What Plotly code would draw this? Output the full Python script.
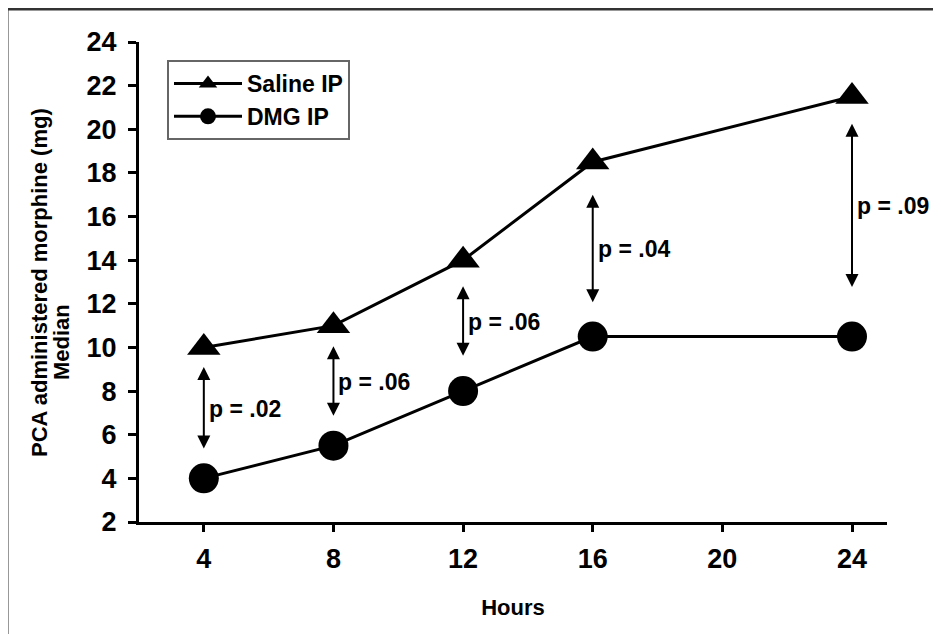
import plotly.graph_objects as go

# ---- data ----
hours = ["4", "8", "12", "16", "20", "24"]
saline_hours = ["4", "8", "12", "16", "24"]
saline_median = [10, 11, 14, 18.5, 21.5]
dmg_hours = ["4", "8", "12", "16", "24"]
dmg_median = [4, 5.5, 8, 10.5, 10.5]

p_hours = ["4", "8", "12", "16", "24"]
p_labels = ["p = .02", "p = .06", "p = .06", "p = .04", "p = .09"]
arrow_top = [9.1, 10.05, 12.8, 17.0, 20.25]
arrow_bottom = [5.3, 6.8, 9.55, 12.0, 12.7]

y_ticks = list(range(2, 25, 2))
y_title = "PCA administered morphine (mg)"
y_subtitle = "Median"
x_title = "Hours"

FONT = "Liberation Sans, Arial, Helvetica, sans-serif"

# page body has an 8px margin, so the figure is drawn 8px smaller and
# positioned 8px up/left to land where the reference elements are
PAGE_OFF = 8
PLOT_L, PLOT_T, PLOT_W, PLOT_H = 139, 42, 748, 480
FIG_W, FIG_H = 941 - PAGE_OFF, 634 - PAGE_OFF


def xpos(h):
    return hours.index(h)


def px(xp):
    return (xp - PLOT_L) / PLOT_W


def py(yp):
    return (PLOT_T + PLOT_H - yp) / PLOT_H


fig = go.Figure()
fig.add_trace(go.Scatter(
    x=[xpos(h) for h in saline_hours], y=saline_median, name="Saline IP",
    mode="lines+markers",
    line=dict(color="black", width=3),
    marker=dict(symbol="triangle-up", size=29, color="black"),
))
fig.add_trace(go.Scatter(
    x=[xpos(h) for h in dmg_hours], y=dmg_median, name="DMG IP",
    mode="lines+markers",
    line=dict(color="black", width=3),
    marker=dict(symbol="circle", size=30, color="black"),
))

annotations = []
for h, lab, top, bot in zip(p_hours, p_labels, arrow_top, arrow_bottom):
    xi = xpos(h)
    annotations.append(dict(
        x=xi, y=top, ax=xi, ay=bot, xref="x", yref="y", axref="x", ayref="y",
        text="", showarrow=True, arrowside="end+start", arrowhead=2,
        arrowsize=1.3, arrowwidth=2, arrowcolor="black",
    ))
    annotations.append(dict(
        x=xi, y=(top + bot) / 2, xref="x", yref="y", text=lab,
        showarrow=False, xanchor="left", yanchor="middle", xshift=3,
        font=dict(family=FONT, size=23, color="black", weight="bold"),
    ))

# y-axis title (two lines placed like the reference)
annotations.append(dict(
    x=px(39), y=py(283), xref="paper", yref="paper", text=y_title,
    textangle=-90, showarrow=False, xanchor="center", yanchor="middle",
    font=dict(family=FONT, size=22, color="black", weight="bold"),
))
annotations.append(dict(
    x=px(61), y=py(342), xref="paper", yref="paper", text=y_subtitle,
    textangle=-90, showarrow=False, xanchor="center", yanchor="middle",
    font=dict(family=FONT, size=22, color="black", weight="bold"),
))

fig.update_layout(
    width=FIG_W, height=FIG_H,
    margin=dict(l=PLOT_L - PAGE_OFF, t=PLOT_T - PAGE_OFF,
                r=FIG_W - (PLOT_L - PAGE_OFF) - PLOT_W,
                b=FIG_H - (PLOT_T - PAGE_OFF) - PLOT_H, autoexpand=False),
    paper_bgcolor="white", plot_bgcolor="white",
    font=dict(family=FONT, color="black", weight="bold"),
    showlegend=True,
    legend=dict(
        x=px(167), y=py(60), xanchor="left", yanchor="top",
        bgcolor="white", bordercolor="#666666", borderwidth=2,
        font=dict(family=FONT, size=23, color="black", weight="bold"),
        itemwidth=68,
    ),
    xaxis=dict(
        range=[-0.5, 5.27], tickmode="array",
        tickvals=list(range(len(hours))), ticktext=hours,
        showline=True, linecolor="black", linewidth=3,
        ticks="outside", ticklen=7, tickwidth=3, tickcolor="black",
        showgrid=False, zeroline=False, automargin=False,
        ticklabelstandoff=4,
        tickfont=dict(family=FONT, size=27, color="black", weight="bold"),
        title=dict(text=x_title, standoff=27,
                   font=dict(family=FONT, size=22, color="black", weight="bold")),
    ),
    yaxis=dict(
        range=[2, 24], tickmode="array", tickvals=y_ticks,
        showline=True, linecolor="black", linewidth=3,
        ticks="outside", ticklen=8, tickwidth=3, tickcolor="black",
        showgrid=False, zeroline=False, automargin=False,
        ticklabelstandoff=6,
        tickfont=dict(family=FONT, size=27, color="black", weight="bold"),
    ),
    annotations=annotations,
    shapes=[dict(
        type="rect", xref="paper", yref="paper",
        x0=px(7), x1=1.3, y0=-0.4, y1=py(9),
        line=dict(color="#333333", width=3), fillcolor="rgba(0,0,0,0)",
        layer="below",
    )],
)

fig.write_html("out.html")
